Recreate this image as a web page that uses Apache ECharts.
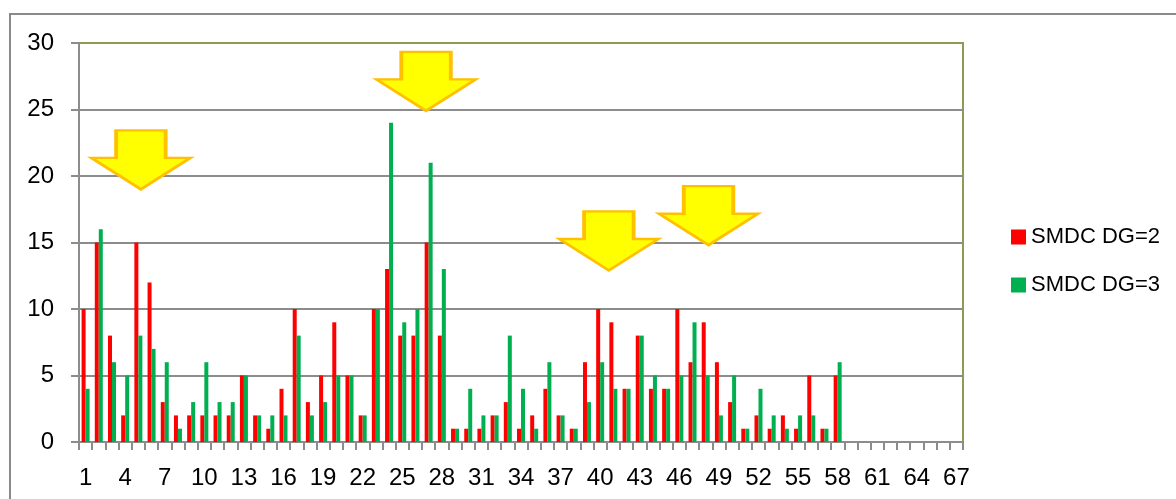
<!DOCTYPE html>
<html>
<head>
<meta charset="utf-8">
<script src="https://cdn.jsdelivr.net/npm/echarts@6/dist/echarts.min.js"></script>
<style>
html,body{margin:0;padding:0;background:#fff;}
#chart{width:1176px;height:499px;}
</style>
</head>
<body>
<div id="chart"></div>
<script>
var categories = ['1','2','3','4','5','6','7','8','9','10','11','12','13','14','15','16','17','18','19','20',
  '21','22','23','24','25','26','27','28','29','30','31','32','33','34','35','36','37','38','39','40',
  '41','42','43','44','45','46','47','48','49','50','51','52','53','54','55','56','57','58','59','60',
  '61','62','63','64','65','66','67'];
var dg2 = [10,15,8,2,15,12,3,2,2,2,2,2,5,2,1,4,10,3,5,9,5,2,10,13,8,8,15,8,1,1,1,2,3,1,2,4,2,1,6,10,9,4,8,4,4,10,6,9,6,3,1,2,1,2,1,5,1,5];
var dg3 = [4,16,6,5,8,7,6,1,3,6,3,3,5,2,2,2,8,2,3,5,5,2,10,24,9,10,21,13,1,4,2,2,8,4,1,6,2,1,3,6,4,4,8,5,4,5,9,5,2,5,1,4,2,1,2,2,1,6];
var seriesNames = ['SMDC DG=2', 'SMDC DG=3'];
var yTicks = {min: 0, max: 30, interval: 5};
// arrow annotations: [category, value at arrow tip]
var arrowTips = [['5', 19], ['27', 24.9], ['41', 12.9], ['48', 14.8]];

var arrowDx = [4.5, -0.6, -2.5, 4.8];
var font = 'Liberation Sans, Arial, sans-serif';
var chart = echarts.init(document.getElementById('chart'), null, {renderer: 'canvas'});
chart.setOption({
  animation: false,
  graphic: [{
    type: 'rect', shape: {x: 10, y: 14, width: 1300, height: 700},
    style: {fill: null, stroke: '#8a8a8a', lineWidth: 2}, silent: true, z: -10
  }],
  grid: {
    left: 79, top: 43, right: 213, bottom: 57,
    show: true, borderColor: '#8c9c54', borderWidth: 2, backgroundColor: 'transparent'
  },
  legend: {
    orient: 'vertical', left: 1006, top: 221, icon: 'rect',
    itemWidth: 15, itemHeight: 15, itemGap: 26,
    textStyle: {fontFamily: font, fontSize: 22, color: '#000'},
    data: seriesNames
  },
  xAxis: {
    type: 'category', data: categories, boundaryGap: true,
    axisLine: {lineStyle: {color: '#8c8c8c', width: 2}},
    axisTick: {show: true, interval: 0, length: 8, lineStyle: {color: '#8c8c8c', width: 2}},
    axisLabel: {interval: 2, margin: 24, fontFamily: font, fontSize: 24, color: '#000'},
    splitLine: {show: false}
  },
  yAxis: {
    type: 'value', min: yTicks.min, max: yTicks.max, interval: yTicks.interval,
    axisLine: {show: true, lineStyle: {color: '#8c8c8c', width: 2}},
    axisTick: {show: true, length: 8, lineStyle: {color: '#8c8c8c', width: 2}},
    axisLabel: {margin: 25, fontFamily: font, fontSize: 24, color: '#000'},
    splitLine: {show: true, showMaxLine: false, lineStyle: {color: '#8c8c8c', width: 2}}
  },
  series: [{
    name: seriesNames[0], type: 'bar', data: dg2, barWidth: 4, barGap: 0,
    itemStyle: {color: '#FF0000'},
    markPoint: {
      silent: true,
      symbol: 'path://M25 0L75 0L75 29L100 29L50 62L0 29L25 29Z',
      symbolSize: [99, 59],
      label: {show: false},
      itemStyle: {color: '#FFFF00', borderColor: '#FFC000', borderWidth: 3},
      z: 10,
      data: arrowTips.map(function (t, i) {
        return {coord: [t[0], t[1]], symbolOffset: [arrowDx[i], '-50%']};
      })
    }
  }, {
    name: seriesNames[1], type: 'bar', data: dg3, barWidth: 4, barGap: 0,
    itemStyle: {color: '#00B050'}
  }]
});
</script>
</body>
</html>
